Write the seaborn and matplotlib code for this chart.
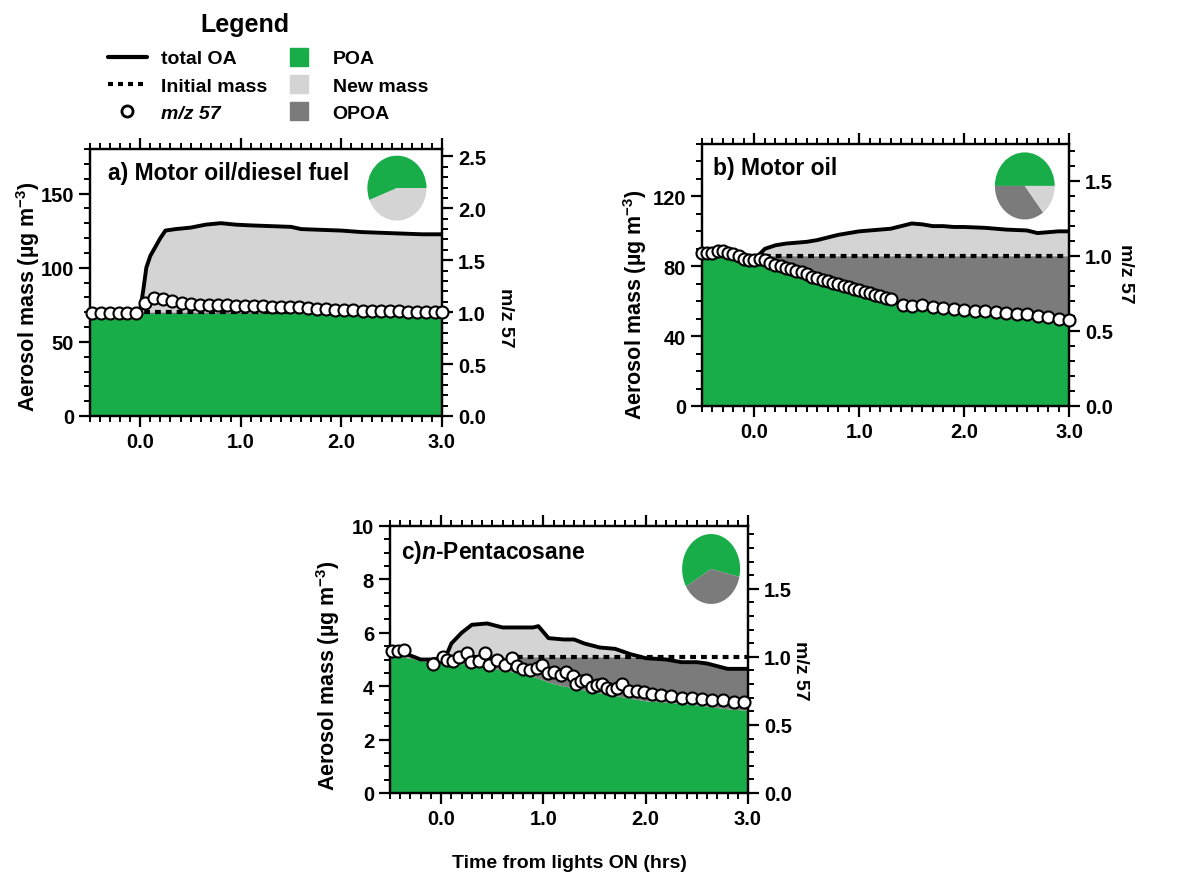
import numpy as np
import matplotlib
matplotlib.use("Agg")
import matplotlib.pyplot as plt
from matplotlib.lines import Line2D
from matplotlib.ticker import MultipleLocator, FormatStrFormatter
import seaborn as sns

# colours used in the figure
GREEN = "#19ad4a"
LIGHT = "#d4d4d4"
DARK = "#7b7b7b"

# ---- a) Motor oil/diesel fuel ----
t_a = [-0.5, -0.02, 0.0, 0.03, 0.06, 0.1, 0.15, 0.2, 0.25, 0.35, 0.5, 0.65, 0.8,
       0.95, 1.1, 1.3, 1.5, 1.6, 1.8, 2.0, 2.2, 2.4, 2.6, 2.8, 3.0]
total_a = [70, 70, 72, 85, 100, 108, 114, 120, 125, 126, 127, 129, 130,
           129, 128.5, 128, 127.5, 126, 125.5, 125, 124, 123.5, 123, 122.5, 122.5]
poa_a = [69, 69, 69, 69, 69, 69, 69, 69, 69, 69, 69, 69, 69,
         69, 69, 69, 69, 69, 69, 69, 69, 69, 69, 69, 69]
init_a = 70.0
t_mz_a = [-0.48, -0.39, -0.30, -0.21, -0.13, -0.04, 0.05, 0.14, 0.23, 0.32, 0.41,
          0.50, 0.59, 0.68, 0.77, 0.86, 0.95, 1.04, 1.13, 1.22, 1.31, 1.40, 1.49,
          1.58, 1.67, 1.76, 1.85, 1.94, 2.03, 2.12, 2.21, 2.30, 2.39, 2.48, 2.57,
          2.66, 2.75, 2.84, 2.93, 3.0]
mz_a = [0.99, 0.99, 0.99, 0.99, 0.99, 0.99, 1.09, 1.14, 1.13, 1.11, 1.09,
        1.08, 1.07, 1.07, 1.065, 1.065, 1.06, 1.06, 1.06, 1.055, 1.05, 1.05, 1.05,
        1.045, 1.04, 1.035, 1.03, 1.025, 1.02, 1.02, 1.015, 1.015, 1.01, 1.01, 1.01,
        1.005, 1.0, 1.0, 1.0, 1.0]
pie_a = [0.56, 0.0, 0.44]   # POA, OPOA, New mass

# ---- b) Motor oil ----
t_b = [-0.5, -0.4, -0.3, -0.2, -0.1, -0.05, 0.0, 0.05, 0.1, 0.2, 0.3, 0.4, 0.5,
       0.6, 0.7, 0.8, 0.9, 1.0, 1.1, 1.2, 1.3, 1.4, 1.5, 1.6, 1.7, 1.8, 1.9,
       2.0, 2.2, 2.4, 2.6, 2.7, 2.8, 2.9, 3.0]
total_b = [89, 88.5, 88, 87.5, 86, 85, 83, 87, 90, 92, 93, 93.5, 94,
           95, 96.5, 98, 99, 100, 100.5, 101, 101.5, 103, 104.5, 104, 103, 103, 102.5,
           102.5, 102, 101, 100.5, 99, 99.5, 100, 100]
poa_b = [85, 85, 85, 84, 82, 80, 81, 82.5, 83, 81, 78.5, 76, 73.5,
         71.5, 69.5, 67.5, 66, 64.5, 63, 61.5, 60, 58.5, 57, 56, 55, 54.5, 53.5,
         53, 52, 50.5, 49.5, 48.5, 48, 47, 46]
init_b = 86.0
t_mz_b = [-0.5, -0.45, -0.4, -0.35, -0.3, -0.25, -0.2, -0.15, -0.1, -0.05, 0.0,
          0.05, 0.1, 0.15, 0.2, 0.25, 0.3, 0.35, 0.4, 0.45, 0.5, 0.55, 0.6, 0.65,
          0.7, 0.75, 0.8, 0.85, 0.9, 0.95, 1.0, 1.05, 1.1, 1.15, 1.2, 1.25, 1.3,
          1.42, 1.5, 1.6, 1.7, 1.8, 1.9, 2.0, 2.1, 2.2, 2.3, 2.4, 2.5, 2.6, 2.7,
          2.8, 2.9, 3.0]
mz_b = [1.02, 1.02, 1.02, 1.03, 1.03, 1.02, 1.01, 1.0, 0.98, 0.97, 0.97,
        0.98, 0.97, 0.95, 0.94, 0.93, 0.92, 0.91, 0.90, 0.89, 0.88, 0.86, 0.85, 0.84,
        0.83, 0.82, 0.81, 0.80, 0.79, 0.78, 0.77, 0.76, 0.75, 0.74, 0.73, 0.72, 0.71,
        0.67, 0.665, 0.67, 0.66, 0.65, 0.645, 0.64, 0.635, 0.63, 0.625, 0.62, 0.615,
        0.61, 0.60, 0.59, 0.58, 0.57]
pie_b = [0.50, 0.355, 0.145]

# ---- c) n-Pentacosane ----
t_c = [-0.5, -0.4, -0.3, -0.2, -0.1, 0.0, 0.05, 0.1, 0.2, 0.3, 0.45, 0.6, 0.75,
       0.9, 0.95, 1.05, 1.2, 1.3, 1.4, 1.55, 1.7, 1.85, 2.0, 2.2, 2.35, 2.5,
       2.6, 2.7, 2.8, 3.0]
total_c = [5.4, 5.3, 5.15, 5.0, 5.0, 5.05, 5.15, 5.6, 6.0, 6.3, 6.35, 6.2, 6.2,
           6.2, 6.25, 5.8, 5.75, 5.75, 5.6, 5.45, 5.4, 5.2, 5.05, 5.0, 4.9, 4.9,
           4.85, 4.75, 4.65, 4.65]
poa_c = [5.1, 5.1, 5.05, 4.95, 4.9, 4.9, 4.9, 4.88, 4.85, 4.8, 4.7, 4.6, 4.5,
         4.35, 4.3, 4.15, 4.0, 3.95, 3.85, 3.75, 3.65, 3.55, 3.45, 3.4, 3.35, 3.3,
         3.25, 3.2, 3.15, 3.1]
init_c = 5.1
t_mz_c = [-0.48, -0.42, -0.36, -0.08, 0.02, 0.06, 0.12, 0.17, 0.25, 0.29, 0.37,
          0.43, 0.47, 0.55, 0.62, 0.69, 0.74, 0.8, 0.87, 0.94, 0.99, 1.04, 1.1,
          1.17, 1.22, 1.29, 1.32, 1.37, 1.42, 1.47, 1.52, 1.57, 1.62, 1.67, 1.72,
          1.77, 1.84, 1.91, 1.98, 2.06, 2.15, 2.25, 2.35, 2.45, 2.55, 2.65, 2.76,
          2.86, 2.96]
mz_c = [1.04, 1.04, 1.05, 0.95, 1.0, 0.98, 0.97, 1.0, 1.03, 0.96, 0.97,
        1.03, 0.94, 0.98, 0.94, 0.99, 0.93, 0.91, 0.9, 0.92, 0.94, 0.88, 0.89,
        0.87, 0.89, 0.86, 0.8, 0.82, 0.83, 0.78, 0.79, 0.8, 0.77, 0.76, 0.77,
        0.8, 0.75, 0.75, 0.74, 0.73, 0.72, 0.71, 0.7, 0.7, 0.69, 0.68, 0.68,
        0.67, 0.67]
pie_c = [0.62, 0.38, 0.0]

titles = ["a) Motor oil/diesel fuel", "b) Motor oil", r"c)$\mathit{n}$-Pentacosane"]
left_ticks = [[0, 50, 100, 150], [0, 40, 80, 120], [0, 2, 4, 6, 8, 10]]
right_ticks = [[0.0, 0.5, 1.0, 1.5, 2.0, 2.5], [0.0, 0.5, 1.0, 1.5], [0.0, 0.5, 1.0, 1.5]]
init_start = [-0.5, 0.0, 0.0]

sns.set_style("ticks", rc={
    "axes.edgecolor": "black", "xtick.color": "black", "ytick.color": "black",
    "text.color": "black", "axes.labelcolor": "black",
})
plt.rcParams["font.family"] = ["Liberation Sans", "DejaVu Sans"]
plt.rcParams["font.weight"] = "bold"
plt.rcParams["axes.labelweight"] = "bold"
plt.rcParams["mathtext.fontset"] = "custom"
plt.rcParams["mathtext.rm"] = "Liberation Sans:bold"
plt.rcParams["mathtext.it"] = "Liberation Sans:italic:bold"
plt.rcParams["mathtext.bf"] = "Liberation Sans:bold"

fig = plt.figure(figsize=(11.89, 8.78), dpi=100)
W, H = 1189, 878


def px_axes(left, top, right, bottom):
    return fig.add_axes([left / W, 1 - bottom / H, (right - left) / W, (bottom - top) / H])


axes = [px_axes(90, 150, 442, 417), px_axes(702, 145, 1069, 407), px_axes(390, 527, 748, 794)]
ymax = [180, 150, 10]
minor_left = [10, 10, 0.5]
pie_boxes = [[0.788, 0.732, 0.168, 0.243], [0.798, 0.712, 0.163, 0.256], [0.816, 0.708, 0.162, 0.262]]
pie_start = [0, 0, -13]
title_x = [0.05, 0.03, 0.03]
ylab_pos = [(-0.176, 0.45), (-0.183, 0.39), (-0.173, 0.445)]
rlab_pos = [(1.18, 0.37), (1.153, 0.51), (1.148, 0.46)]

panels = [
    (t_a, total_a, poa_a, init_a, t_mz_a, mz_a, pie_a),
    (t_b, total_b, poa_b, init_b, t_mz_b, mz_b, pie_b),
    (t_c, total_c, poa_c, init_c, t_mz_c, mz_c, pie_c),
]


def style_axis(a):
    for sp in a.spines.values():
        sp.set_linewidth(1.6)
    a.tick_params(which="major", length=8, width=1.6, direction="out", labelsize=14.5)
    a.tick_params(which="minor", length=4.5, width=1.4, direction="out")


for i, (ax, (t, total, poa, init, tm, mz, pie)) in enumerate(zip(axes, panels)):
    t = np.array(t)
    total = np.array(total, dtype=float)
    poa = np.array(poa, dtype=float)
    upper_old = np.minimum(total, init)

    ax.fill_between(t, 0, poa, color=GREEN, lw=0, zorder=1)
    ax.fill_between(t, poa, upper_old, where=upper_old > poa, interpolate=True,
                    color=DARK, lw=0, zorder=1)
    ax.fill_between(t, init, total, where=total > init, interpolate=True,
                    color=LIGHT, lw=0, zorder=1)
    sns.lineplot(x=t, y=total, ax=ax, color="black", lw=2.8, estimator=None, zorder=3)
    ax.plot([init_start[i], t[-1]], [init, init], color="black", lw=3,
            ls=(0, (1.4, 1.2)), zorder=2)

    ax.set_xlim(-0.5, 3.0)
    ax.set_ylim(0, ymax[i])
    ax.set_xticks([0, 1, 2, 3])
    ax.xaxis.set_major_formatter(FormatStrFormatter("%.1f"))
    ax.xaxis.set_minor_locator(MultipleLocator(0.1))
    ax.set_yticks(left_ticks[i])
    ax.yaxis.set_minor_locator(MultipleLocator(minor_left[i]))
    ax.tick_params(axis="x", which="both", top=True, bottom=True)
    style_axis(ax)
    ax.set_ylabel(r"Aerosol mass (µg m$^{-3}$)", fontsize=15.5)
    ax.yaxis.set_label_coords(*ylab_pos[i])
    ax.yaxis.label.set_va("center")
    ax.yaxis.label.set_ha("center")
    ax.text(title_x[i], 0.955, titles[i], transform=ax.transAxes, fontsize=16.5,
            fontweight="bold", va="top", ha="left", zorder=6)

    ax2 = ax.twinx()
    sns.scatterplot(x=tm, y=mz, ax=ax2, marker="o", s=75, color="white",
                    edgecolor="black", linewidth=1.5, zorder=5, legend=False)
    ax2.collections[-1].set_clip_on(False)
    ax2.set_ylim(0, ymax[i] / init)
    ax2.set_yticks(right_ticks[i])
    ax2.yaxis.set_major_formatter(FormatStrFormatter("%.1f"))
    ax2.yaxis.set_minor_locator(MultipleLocator(0.1))
    style_axis(ax2)
    ax2.set_ylabel("m/z 57", fontsize=14, rotation=270)
    ax2.yaxis.set_label_coords(*rlab_pos[i])
    ax2.yaxis.label.set_va("center")
    ax2.yaxis.label.set_ha("center")

    pax = ax.inset_axes(pie_boxes[i])
    pax.pie(pie, colors=[GREEN, DARK, LIGHT], startangle=pie_start[i],
            counterclock=True, wedgeprops={"linewidth": 0})
    pax.set_aspect("auto")
    pax.set_xlim(-1, 1)
    pax.set_ylim(-1, 1)
    pax.axis("off")

axes[2].set_xlabel("Time from lights ON (hrs)", fontsize=14, labelpad=19)

# legend block in the upper left corner
fig.text(245 / W, 1 - 25 / H, "Legend", fontsize=18, fontweight="bold",
         ha="center", va="center")
handles = [
    Line2D([], [], color="black", lw=3),
    Line2D([], [], color="black", lw=3, ls=(0, (1.2, 1.2))),
    Line2D([], [], ls="none", marker="o", mfc="white", mec="black", mew=2, ms=8),
    Line2D([], [], ls="none", marker="s", ms=13, color=GREEN),
    Line2D([], [], ls="none", marker="s", ms=13, color=LIGHT),
    Line2D([], [], ls="none", marker="s", ms=13, color=DARK),
]
labels = ["total OA", "Initial mass", "m/z 57", "POA", "New mass", "OPOA"]
leg = fig.legend(handles, labels, ncol=2, loc="upper left",
                 bbox_to_anchor=(100 / W, 1 - 43 / H), frameon=False, fontsize=14,
                 handlelength=2.0, columnspacing=0.6, labelspacing=0.5,
                 handletextpad=0.75, borderaxespad=0.0)
leg.get_texts()[2].set_style("italic")

fig.savefig("out.png", dpi=100)
